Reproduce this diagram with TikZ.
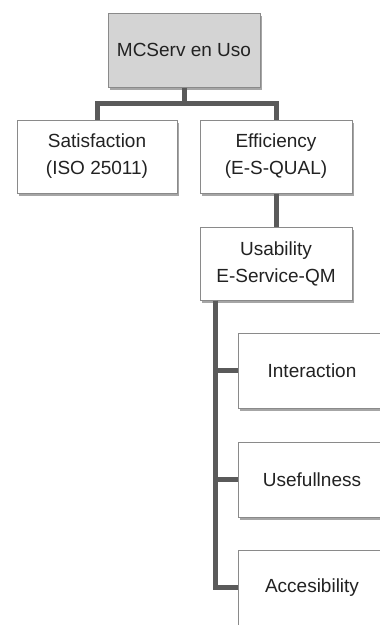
\documentclass[tikz,border=0pt]{standalone}
\usepackage{fontspec}
\setmainfont{Liberation Sans}
\usetikzlibrary{shadows}
\definecolor{boxline}{HTML}{8A8A8A}
\definecolor{linkgray}{HTML}{5A5A5A}
\definecolor{topfill}{HTML}{D4D4D4}
\definecolor{txt}{HTML}{222222}
\tikzset{
  item/.style={draw=boxline,line width=1pt,fill=white,text=txt,align=center,
    minimum width=152pt,minimum height=74pt,inner sep=2pt,
    font=\fontsize{19pt}{27pt}\selectfont,
    drop shadow={shadow xshift=2pt,shadow yshift=-3pt,fill=black,opacity=0.35}},
  link/.style={draw=linkgray,line width=5pt}
}
\begin{document}
\begin{tikzpicture}[x=1pt,y=-1pt]
        \clip (0,0) rectangle (380,625);
        \fill[white] (0,0) rectangle (380,625);
        %% boxes
        \node[item,fill=topfill] (mcserv) at (184,50) {MCServ en Uso};
        \node[item,minimum width=160pt,minimum height=73pt] (satis) at (97,156.5) {Satisfaction\\(ISO 25011)};
        \node[item,minimum height=73pt] (effic) at (276,156.5) {Efficiency\\(E-S-QUAL)};
        \node[item,minimum height=73pt] (usab) at (276,263.5) {Usability\\E-Service-QM};
        \node[item,minimum width=148pt,minimum height=75pt] (inter) at (312,370.5) {Interaction};
        \node[item,minimum width=148pt,minimum height=75pt] (usef) at (312,479.5) {Usefullness};
        \node[item,minimum width=148pt,minimum height=75pt] (acces) at (312,587.5) {Accesibility};
        %% links
        \coordinate (spine) at (215,0);
        \draw[link] (mcserv.south) -- ++(0,16) coordinate (bar) -| (satis.north);
        \draw[link] (bar) -| (effic.north);
        \draw[link] (effic.south) -- (usab.north);
        \foreach \n in {inter,usef,acces} \draw[link] (usab.south -| spine) |- (\n.west);
\end{tikzpicture}
\end{document}
